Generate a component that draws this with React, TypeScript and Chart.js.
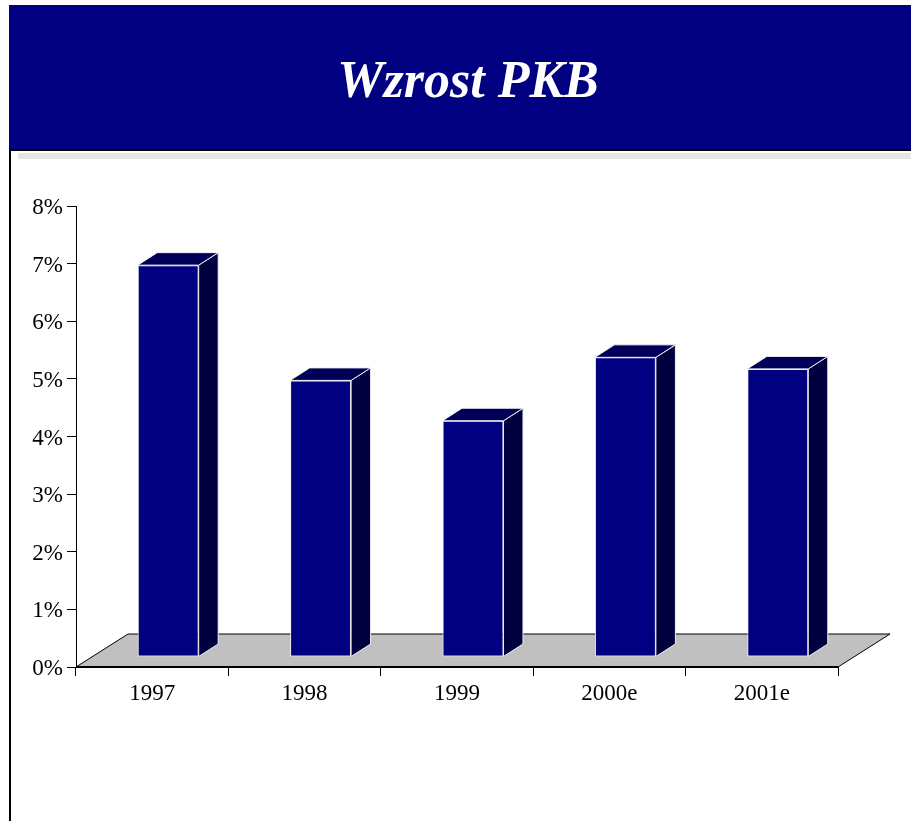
import React, { useEffect, useRef } from "react";
import { Chart, registerables } from "chart.js";

Chart.register(...registerables);

const title = "Wzrost PKB";
const categories = ["1997", "1998", "1999", "2000e", "2001e"];
const growth = [6.8, 4.8, 4.1, 5.2, 5.0];
const yTickValues = [0, 1, 2, 3, 4, 5, 6, 7, 8];

const FRONT = "#000080";
const TOP = "#000058";
const SIDE = "#00003f";
const FLOOR = "#c0c0c0";

const FLOOR_DX = 52;
const FLOOR_DY = -33;
const BAR_SHIFT_X = 16;
const BAR_SHIFT_Y = -10;
const BAR_DX = 19.5;
const BAR_DY = -12.5;

const threeD = {
  id: "threeD",
  beforeDatasetsDraw(chart: any) {
    const { ctx, chartArea } = chart;
    const l = chartArea.left;
    const r = chartArea.right;
    const b = chartArea.bottom;
    ctx.save();
    ctx.beginPath();
    ctx.moveTo(l, b);
    ctx.lineTo(r, b);
    ctx.lineTo(r + FLOOR_DX, b + FLOOR_DY);
    ctx.lineTo(l + FLOOR_DX, b + FLOOR_DY);
    ctx.closePath();
    ctx.fillStyle = FLOOR;
    ctx.fill();
    ctx.strokeStyle = "#000";
    ctx.lineWidth = 1;
    ctx.beginPath();
    ctx.moveTo(l, b);
    ctx.lineTo(l + FLOOR_DX, b + FLOOR_DY);
    ctx.lineTo(r + FLOOR_DX, b + FLOOR_DY);
    ctx.lineTo(r, b);
    ctx.stroke();
    ctx.lineWidth = 2;
    ctx.beginPath();
    ctx.moveTo(l, b);
    ctx.lineTo(r, b);
    ctx.stroke();
    ctx.restore();
    ctx.save();
    ctx.translate(BAR_SHIFT_X, BAR_SHIFT_Y);
  },
  afterDatasetsDraw(chart: any) {
    const { ctx } = chart;
    const meta = chart.getDatasetMeta(0);
    meta.data.forEach((bar: any) => {
      const p = bar.getProps(["x", "y", "base", "width"], true);
      const left = p.x - p.width / 2;
      const right = p.x + p.width / 2;
      const top = p.y;
      const base = p.base;
      ctx.lineWidth = 1;
      ctx.strokeStyle = "#f0f0f0";
      ctx.beginPath();
      ctx.moveTo(right, top);
      ctx.lineTo(right + BAR_DX, top + BAR_DY);
      ctx.lineTo(right + BAR_DX, base + BAR_DY);
      ctx.lineTo(right, base);
      ctx.closePath();
      ctx.fillStyle = SIDE;
      ctx.fill();
      ctx.stroke();
      ctx.beginPath();
      ctx.moveTo(left, top);
      ctx.lineTo(right, top);
      ctx.lineTo(right + BAR_DX, top + BAR_DY);
      ctx.lineTo(left + BAR_DX, top + BAR_DY);
      ctx.closePath();
      ctx.fillStyle = TOP;
      ctx.fill();
      ctx.stroke();
    });
    ctx.restore();
  },
};

export default function App() {
  const ref = useRef<HTMLCanvasElement>(null);

  useEffect(() => {
    if (!ref.current) return;
    const chart = new Chart(ref.current, {
      type: "bar",
      data: {
        labels: categories,
        datasets: [
          {
            data: growth,
            backgroundColor: FRONT,
            borderColor: "#f0f0f0",
            borderWidth: 1,
            borderSkipped: false,
            barPercentage: 0.8,
            categoryPercentage: 0.5,
            clip: false as any,
          },
        ],
      },
      options: {
        responsive: false,
        animation: false,
        layout: { padding: { left: 0, right: 73, top: 46, bottom: 0 } },
        plugins: {
          legend: { display: false },
          tooltip: { enabled: false },
          title: { display: false },
        },
        scales: {
          x: {
            afterFit: (s: any) => {
              s.height = 154;
            },
            border: { display: false },
            grid: {
              drawOnChartArea: false,
              offset: true,
              tickLength: 9,
              color: "#000",
              tickColor: "#000",
            },
            ticks: {
              color: "#000",
              padding: 4,
              font: { family: "'Liberation Serif', 'Times New Roman', serif", size: 23 },
            },
          },
          y: {
            min: 0,
            max: 8,
            afterFit: (s: any) => {
              s.width = 64;
            },
            afterBuildTicks: (s: any) => {
              s.ticks = yTickValues.map((v) => ({ value: v }));
            },
            border: { display: true, color: "#000", width: 1 },
            grid: {
              drawOnChartArea: false,
              tickLength: 9,
              tickColor: "#000",
            },
            ticks: {
              color: "#000",
              padding: 4,
              labelOffset: 2,
              font: { family: "'Liberation Serif', 'Times New Roman', serif", size: 23 },
              callback: (v: any) => `${v}%`,
            },
          },
        },
      },
      plugins: [threeD],
    });
    return () => chart.destroy();
  }, []);

  return (
    <div
      style={{
        position: "absolute",
        left: 0,
        top: 0,
        width: 911,
        height: 821,
        overflow: "hidden",
        background: "#fff",
      }}
    >
      <div
        style={{
          position: "absolute",
          left: 9,
          top: 5,
          width: 902,
          height: 144,
          background: "#000080",
        }}
      />
      <div
        style={{
          position: "absolute",
          left: 468,
          top: 53.5,
          transform: "translateX(-50%)",
          whiteSpace: "nowrap",
          color: "#fff",
          font: "italic bold 52px 'Liberation Serif', 'Times New Roman', serif",
          lineHeight: "52px",
        }}
      >
        {title}
      </div>
      <div
        style={{
          position: "absolute",
          left: 9,
          top: 149,
          width: 902,
          height: 2,
          background: "#000",
        }}
      />
      <div
        style={{
          position: "absolute",
          left: 9,
          top: 149,
          width: 2,
          height: 672,
          background: "#000",
        }}
      />
      <div
        style={{
          position: "absolute",
          left: 18,
          top: 153,
          width: 893,
          height: 6,
          background: "#e6e6e6",
        }}
      />
      <canvas
        ref={ref}
        width={899}
        height={661}
        style={{ position: "absolute", left: 12, top: 160, display: "block" }}
      />
    </div>
  );
}
